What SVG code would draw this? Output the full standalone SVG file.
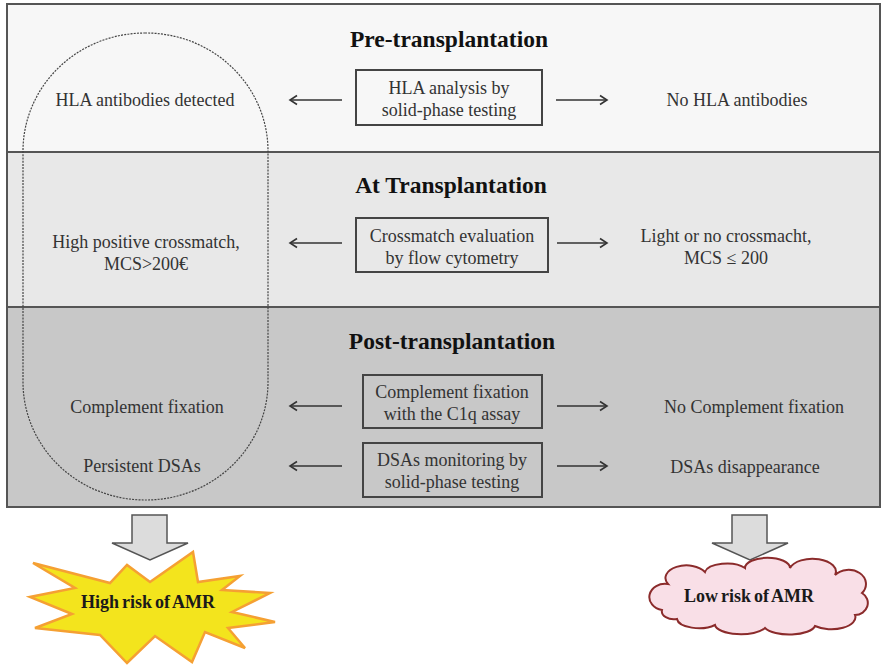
<svg xmlns="http://www.w3.org/2000/svg" width="885" height="666" viewBox="0 0 885 666">
<style>
.t{font-family:"Liberation Serif","Times New Roman",serif;font-size:18px;fill:#333;text-anchor:middle}
.h{font-family:"Liberation Serif","Times New Roman",serif;font-size:23.5px;font-weight:bold;fill:#111;text-anchor:middle}
.r{font-family:"Liberation Serif","Times New Roman",serif;font-size:18px;font-weight:bold;fill:#1a1a1a;text-anchor:middle;word-spacing:-1.5px}
.box{fill:none;stroke:#444;stroke-width:2}
.con{stroke:#333;stroke-width:1.6;fill:none;marker-end:url(#ah)}
.big{fill:#dcdcdc;stroke:#555;stroke-width:1.5}
</style>
<defs>
<marker id="ah" markerWidth="12" markerHeight="12" refX="9" refY="6" orient="auto" markerUnits="userSpaceOnUse">
<path d="M2,1.5 L9,6 L2,10.5" fill="none" stroke="#333" stroke-width="1.6"/>
</marker>
</defs>
<rect width="885" height="666" fill="#fff"/>
<g id="bands">
<rect x="7" y="4" width="873" height="148" fill="#f7f7f7"/>
<rect x="7" y="152" width="873" height="155" fill="#e8e8e8"/>
<rect x="7" y="307" width="873" height="200" fill="#c8c8c8"/>
<line x1="7" y1="152" x2="880" y2="152" stroke="#555" stroke-width="2"/>
<line x1="7" y1="307" x2="880" y2="307" stroke="#555" stroke-width="2"/>
<rect x="7" y="4" width="873" height="503" fill="none" stroke="#555" stroke-width="2"/>
</g>
<g id="group-outline">
<rect x="23" y="33" width="245" height="467" rx="122" ry="118" fill="none" stroke="#444" stroke-width="1.2" stroke-dasharray="2,1.2"/>
</g>
<g id="titles">
<text class="h" x="449" y="47">Pre-transplantation</text>
<text class="h" x="451" y="193">At Transplantation</text>
<text class="h" x="452" y="349">Post-transplantation</text>
</g>
<g id="n-hla">
<rect class="box" x="356" y="70" width="186" height="55"/>
<text class="t" x="449" y="94">HLA analysis by</text>
<text class="t" x="449" y="116">solid-phase testing</text>
</g>
<g id="n-cross">
<rect class="box" x="356" y="218" width="192" height="54"/>
<text class="t" x="452" y="242">Crossmatch evaluation</text>
<text class="t" x="452" y="264">by flow cytometry</text>
</g>
<g id="n-c1q">
<rect class="box" x="363" y="375" width="179" height="53"/>
<text class="t" x="452" y="398">Complement fixation</text>
<text class="t" x="452" y="420">with the C1q assay</text>
</g>
<g id="n-dsa">
<rect class="box" x="363" y="443" width="179" height="54"/>
<text class="t" x="452" y="466">DSAs monitoring by</text>
<text class="t" x="452" y="488">solid-phase testing</text>
</g>
<g id="n-left">
<text class="t" x="145" y="106">HLA antibodies detected</text>
<text class="t" x="146" y="248">High positive crossmatch,</text>
<text class="t" x="146" y="270">MCS&gt;200€</text>
<text class="t" x="147" y="413">Complement fixation</text>
<text class="t" x="142" y="472">Persistent DSAs</text>
</g>
<g id="n-right">
<text class="t" x="737" y="106">No HLA antibodies</text>
<text class="t" x="726" y="242">Light or no crossmacht,</text>
<text class="t" x="726" y="264">MCS ≤ 200</text>
<text class="t" x="754" y="413">No Complement fixation</text>
<text class="t" x="745" y="473">DSAs disappearance</text>
</g>
<g id="connectors">
<line class="con" x1="342" y1="100" x2="290" y2="100"/>
<line class="con" x1="556" y1="100" x2="607" y2="100"/>
<line class="con" x1="342" y1="243" x2="290" y2="243"/>
<line class="con" x1="557" y1="243" x2="607" y2="243"/>
<line class="con" x1="342" y1="406" x2="290" y2="406"/>
<line class="con" x1="557" y1="406" x2="607" y2="406"/>
<line class="con" x1="342" y1="466" x2="290" y2="466"/>
<line class="con" x1="557" y1="466" x2="607" y2="466"/>
<path class="big" d="M132,515 H167 V543 H188 L150,560 L112,543 H132 Z"/>
<path class="big" d="M732,515 H767 V543 H788 L750,560 L712,543 H732 Z"/>
</g>
<g id="n-high">
<polygon points="33,563 110,583 127,565 150,582 193,552 198,582 240,576 222,590 270,593 232,612 275,622 228,628 245,648 205,632 192,662 155,636 127,663 100,635 35,628 72,614 30,597 75,588" fill="#f3e41d" stroke="#f5a033" stroke-width="2.5" stroke-linejoin="miter"/>
<text class="r" x="148" y="608">High risk of AMR</text>
</g>
<g id="n-low">
<path d="M662,610 A13 11 0 0 1 668,584 A20 12 0 0 1 705,572 A22 10 0 0 1 745,568 A22 10 0 0 1 790,568 A22 12 0 0 1 835,575 A16 13 0 0 1 862,593 A13 12 0 0 1 855,615 A24 12 0 0 1 815,626 A26 10 0 0 1 765,628 A26 10 0 0 1 715,625 A22 10 0 0 1 677,619 A12 8 0 0 1 662,610 Z" fill="#f9dfe7" stroke="#8b2b2b" stroke-width="2"/>
<text class="r" x="749" y="602">Low risk of AMR</text>
</g>
</svg>
